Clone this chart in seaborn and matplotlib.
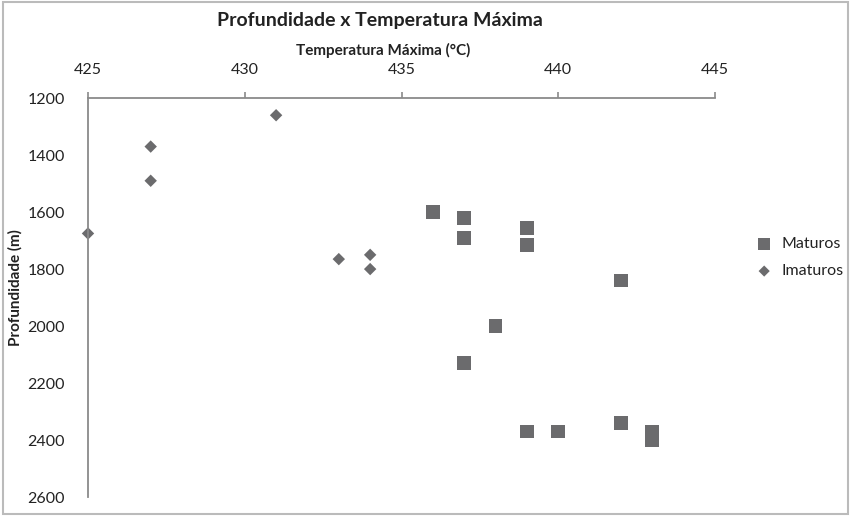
import matplotlib
matplotlib.use('Agg')
import matplotlib.pyplot as plt
import pandas as pd
import seaborn as sns

mat_temp = [436, 437, 437, 439, 439, 442, 438, 437, 439, 440, 442, 443, 443]
mat_depth = [1600, 1620, 1690, 1655, 1715, 1840, 2000, 2130, 2370, 2370, 2340, 2370, 2400]
imat_temp = [431, 427, 427, 425, 433, 434, 434]
imat_depth = [1260, 1370, 1490, 1675, 1765, 1750, 1800]

df_mat = pd.DataFrame({'temp': mat_temp, 'depth': mat_depth})
df_imat = pd.DataFrame({'temp': imat_temp, 'depth': imat_depth})

sns.set_style('white')
plt.rcParams['font.family'] = ['Lato', 'DejaVu Sans']

fig = plt.figure(figsize=(8.51, 5.16), dpi=100)
ax = fig.add_axes([0.1034, 0.0368, 0.7368, 0.773])

grey = '#6b6b6d'
sns.scatterplot(data=df_mat, x='temp', y='depth', marker='s', s=100, color=grey,
                edgecolor='none', label='Maturos', ax=ax, clip_on=False)
sns.scatterplot(data=df_imat, x='temp', y='depth', marker='D', s=40, color=grey,
                edgecolor='none', label='Imaturos', ax=ax, clip_on=False)

ax.set_xlim(425, 445)
ax.set_ylim(2600, 1200)
ax.set_xticks(range(425, 446, 5))
ax.set_yticks(range(1200, 2601, 200))
ax.xaxis.tick_top()
ax.xaxis.set_label_position('top')
for s in ['right', 'bottom']:
    ax.spines[s].set_visible(False)
for s in ['top', 'left']:
    ax.spines[s].set_color('#8a8a8a')
    ax.spines[s].set_linewidth(1.3)
ax.tick_params(axis='x', top=True, direction='out', length=4, width=1.2, color='#8a8a8a',
               labelsize=11.5, labelcolor='#222222', pad=11)
ax.tick_params(axis='y', left=False, labelsize=11.5, labelcolor='#222222', pad=13)

ax.set_xlabel('Temperatura Máxima (°C)', fontsize=11, fontweight='bold',
              color='#222222')
ax.xaxis.set_label_coords(0.47, 1.107)
ax.set_ylabel('Profundidade (m)', fontsize=11, fontweight='bold', color='#222222')
ax.yaxis.set_label_coords(-0.104, 0.525)
fig.text(0.447, 0.961, 'Profundidade x Temperatura Máxima', ha='center', va='center',
         fontsize=14, fontweight='bold', color='#222222')

ax.legend(loc='center left', bbox_to_anchor=(1.03, 0.60), frameon=False, fontsize=11.5,
          handletextpad=0.1, labelspacing=0.8, markerscale=0.9, labelcolor='#222222')

border = plt.Rectangle((0.003, 0.003), 0.994, 0.994, transform=fig.transFigure,
                       fill=False, edgecolor='#bbbbbb', linewidth=1.5)
fig.patches.append(border)

fig.savefig('out.png', dpi=100)
